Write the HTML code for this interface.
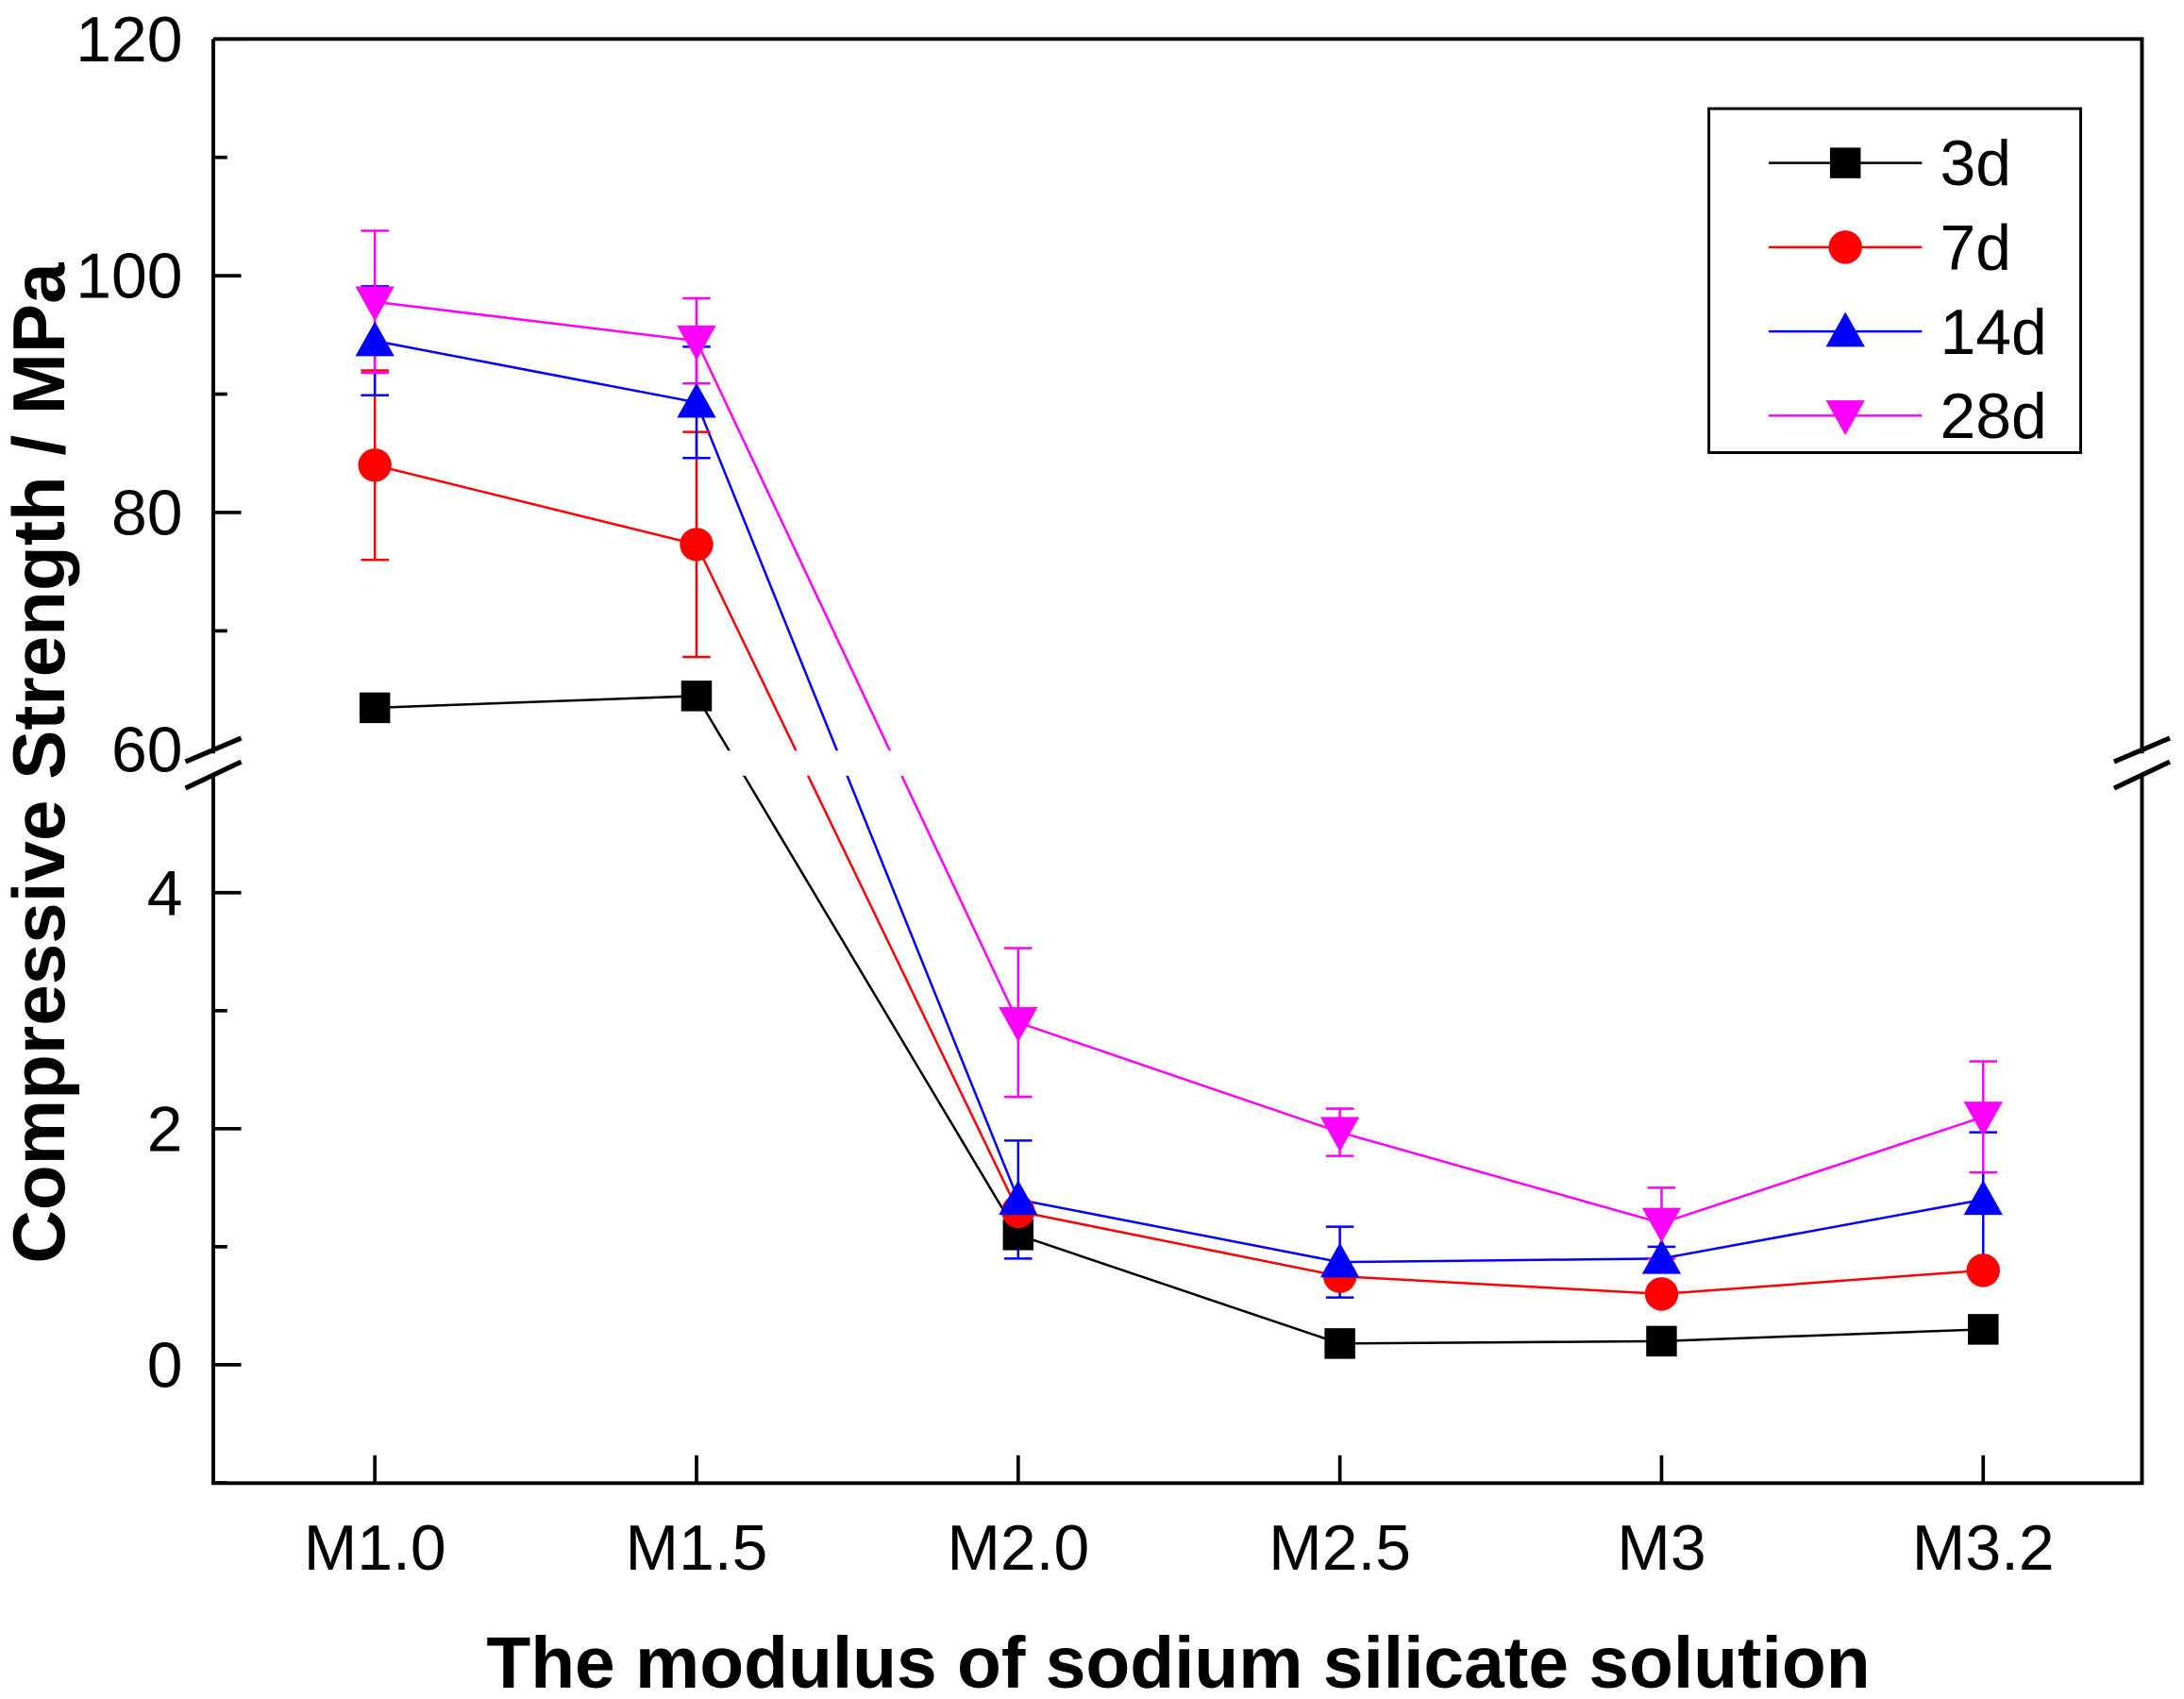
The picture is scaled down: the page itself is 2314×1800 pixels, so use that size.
<!DOCTYPE html>
<html><head><meta charset="utf-8"><style>
html,body{margin:0;padding:0;background:#fff;}
svg{display:block;font-family:"Liberation Sans",Arial,sans-serif;}
</style></head><body>
<svg id="chart" width="2314" height="1800" viewBox="0 0 1568 1220" xmlns="http://www.w3.org/2000/svg">
<g id="plot"></g>
</svg>
<script>
const categories = ["M1.0","M1.5","M2.0","M2.5","M3","M3.2"];
const s3d = [63.5, 64.5, 1.1, 0.18, 0.2, 0.3];
const s7d = [84, 77.3, 1.3, 0.75, 0.6, 0.8];
const s14d = [94.5, 89.3, 1.4, 0.87, 0.9, 1.4];
const s28d = [97.8, 94.5, 2.9, 1.97, 1.2, 2.1];
const e3d = [0, 0, 0, 0, 0, 0];
const e7d = [8, 9.5, 0.05, 0.05, 0.05, 0.05];
const e14d = [4.6, 4.7, 0.5, 0.3, 0.1, 0.57];
const e28d = [6, 3.6, 0.63, 0.2, 0.3, 0.47];
const upperTicks = [60, 80, 100, 120];
const lowerTicks = [0, 2, 4];

const NS="http://www.w3.org/2000/svg";
const g=document.getElementById('plot');
const L=153,R=1538,T=28,B=1065;
function x(i){return 269+i*231;}
function y(v){ if(v>=30) return 538-(v-60)*8.5; return 980-v*84.75; }
function mk(tag,attrs,parent){const e=document.createElementNS(NS,tag);for(const k in attrs)e.setAttribute(k,attrs[k]);(parent||g).appendChild(e);return e;}

const series=[
 {name:"3d",vals:s3d,errs:e3d,color:"#000000",shape:"square"},
 {name:"7d",vals:s7d,errs:e7d,color:"#ff0000",shape:"circle"},
 {name:"14d",vals:s14d,errs:e14d,color:"#0000ff",shape:"up"},
 {name:"28d",vals:s28d,errs:e28d,color:"#ff00ff",shape:"down"}
];
function marker(shape,cx,cy,color,name){
  let el;
  if(shape==="square") el=mk('rect',{x:cx-11,y:cy-11,width:22,height:22,fill:color});
  else if(shape==="circle") el=mk('circle',{cx:cx,cy:cy,r:12,fill:color});
  else if(shape==="up") el=mk('polygon',{points:`${cx},${cy-14} ${cx-14},${cy+11} ${cx+14},${cy+11}`,fill:color});
  else el=mk('polygon',{points:`${cx},${cy+14} ${cx-14},${cy-11} ${cx+14},${cy-11}`,fill:color});
  
  
  return el;
}
series.forEach(s=>{
  const pts=s.vals.map((v,i)=>x(i)+","+y(v)).join(" ");
  const pl=mk('polyline',{points:pts,fill:"none",stroke:s.color,"stroke-width":1.7});
  
  
});
const band=mk('rect',{x:L+2,y:539,width:R-L-4,height:18,fill:"#fff"});


series.forEach(s=>{
  s.vals.forEach((v,i)=>{
    const e=s.errs[i];
    if(e>0){
      const eb=mk('path',{d:`M${x(i)},${y(v+e)}V${y(v-e)}M${x(i)-10},${y(v+e)}H${x(i)+10}M${x(i)-10},${y(v-e)}H${x(i)+10}`,stroke:s.color,"stroke-width":1.7,fill:"none"});
      
      
    }
  });
});
series.forEach(s=>{
  s.vals.forEach((v,i)=>{ marker(s.shape,x(i),y(v),s.color,'point-'+s.name+'-'+categories[i]); });
});
const ax=mk('path',{d:`M${L},${T}V541M${L},558V${B}H${R}V558M${R},541V${T}H${L}`,stroke:"#000","stroke-width":2.7,fill:"none"});


[L,R].forEach(bx=>{
  const br=mk('path',{d:`M${bx-20},547L${bx+20},530M${bx-20},566L${bx+20},547`,stroke:"#000","stroke-width":3.5,fill:"none"});
  
  
});
function ytick(v,len){mk('line',{x1:L,x2:L+len,y1:y(v),y2:y(v),stroke:"#000","stroke-width":2.5});}
upperTicks.forEach(v=>{ if(v>60) ytick(v,20);
  const t=mk('text',{x:L-22,y:y(v)+16,"text-anchor":"end","font-size":46});t.textContent=v;
  
  });
[70,90,110].forEach(v=>ytick(v,10));
lowerTicks.forEach(v=>{ ytick(v,20);
  const t=mk('text',{x:L-22,y:y(v)+16,"text-anchor":"end","font-size":46});t.textContent=v;
  
  });
[-1,1,3].forEach(v=>ytick(v,10));
categories.forEach((c,i)=>{
  mk('line',{x1:x(i),x2:x(i),y1:B,y2:B-20,stroke:"#000","stroke-width":2.5});
  const t=mk('text',{x:x(i),y:1127,"text-anchor":"middle","font-size":46});t.textContent=c;
  
  
});
const xt=mk('text',{x:846,y:1212,"text-anchor":"middle","font-size":52,"font-weight":"bold"});
xt.textContent="The modulus of sodium silicate solution";


const yt=mk('text',{x:0,y:0,"text-anchor":"middle","font-size":53,"font-weight":"bold",transform:"translate(46,548) rotate(-90)"});
yt.textContent="Compressive Strength / MPa";


const lg=mk('rect',{x:1227,y:78,width:267,height:247,fill:"#fff",stroke:"#000","stroke-width":2});


series.forEach((s,k)=>{
  const ly=117+k*60.5;
  mk('line',{x1:1270,x2:1380,y1:ly,y2:ly,stroke:s.color,"stroke-width":1.7});
  marker(s.shape,1325,ly,s.color,'legend-marker-'+s.name);
  const t=mk('text',{x:1393,y:ly+16,"font-size":46});t.textContent=s.name;
  
  
});
</script>
</body></html>
